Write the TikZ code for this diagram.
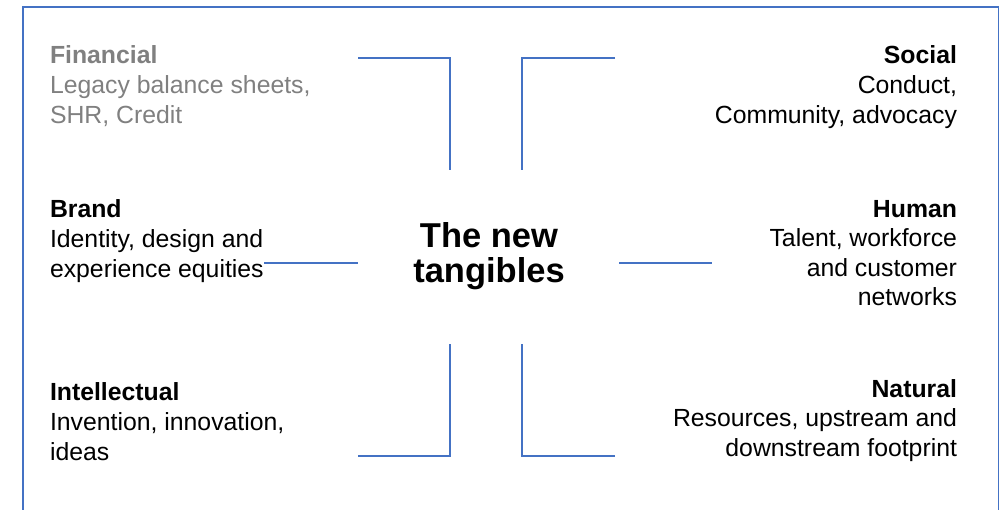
\documentclass[tikz,border=0pt]{standalone}
\usepackage{fontspec}
\setmainfont{Liberation Sans}
\definecolor{lineblue}{HTML}{4472C4}
\definecolor{txtgray}{HTML}{808080}
\newcommand{\blockL}[2]{{\fontsize{24.8}{#1}\selectfont\begin{tabular}[t]{@{}l@{}}#2\end{tabular}}}
\newcommand{\blockR}[2]{{\fontsize{24.8}{#1}\selectfont\begin{tabular}[t]{@{}r@{}}#2\end{tabular}}}
\begin{document}
\begin{tikzpicture}[x=1pt,y=-1pt,
  bracket/.style={draw=lineblue,line width=1.6pt},
  frame/.style={draw=lineblue,line width=1.4pt},
  lefttext/.style={anchor=base west,inner sep=0pt,outer sep=0pt},
  righttext/.style={anchor=base east,inner sep=0pt,outer sep=0pt},
  titletext/.style={anchor=base,inner sep=0pt,align=center,font=\fontsize{34.5}{35}\selectfont\bfseries}]
\useasboundingbox (0,0) rectangle (1000,509);
\clip (0,0) rectangle (1000,509);
% frame (open at bottom, cut by the picture edge)
\draw[frame] (23,520) -- (23,7) -- (998.5,7) -- (998.5,520);
% title
\node[titletext] (title) at (489,282) {The new\\tangibles};
% text blocks
\node[lefttext,text=txtgray] (financial) at (50,63) {\blockL{30}{\textbf{Financial}\\Legacy balance sheets,\\SHR, Credit}};
\node[righttext] (social) at (957,63) {\blockR{30}{\textbf{Social}\\Conduct,\\Community, advocacy}};
\node[lefttext] (brand) at (50,217) {\blockL{30}{\textbf{Brand}\\Identity, design and\\experience equities}};
\node[righttext] (human) at (957,217) {\blockR{29.5}{\textbf{Human}\\Talent, workforce\\and customer\\networks}};
\node[lefttext] (intellectual) at (50,400) {\blockL{30}{\textbf{Intellectual}\\Invention, innovation,\\ideas}};
\node[righttext] (natural) at (957,397) {\blockR{29.5}{\textbf{Natural}\\Resources, upstream and\\downstream footprint}};
% brackets
\coordinate (tl1) at (358,58); \coordinate (tl2) at (450,58); \coordinate (tl3) at (450,170);
\coordinate (tr1) at (615,58); \coordinate (tr2) at (522,58); \coordinate (tr3) at (522,170);
\coordinate (bl1) at (358,456); \coordinate (bl2) at (450,456); \coordinate (bl3) at (450,344);
\coordinate (br1) at (615,456); \coordinate (br2) at (522,456); \coordinate (br3) at (522,344);
\coordinate (ml1) at (264,263); \coordinate (ml2) at (358,263);
\coordinate (mr1) at (619,263); \coordinate (mr2) at (712,263);
\draw[bracket] (tl1) -- (tl2) -- (tl3);
\draw[bracket] (tr1) -- (tr2) -- (tr3);
\draw[bracket] (bl1) -- (bl2) -- (bl3);
\draw[bracket] (br1) -- (br2) -- (br3);
\draw[bracket] (ml1) -- (ml2);
\draw[bracket] (mr1) -- (mr2);
\end{tikzpicture}
\end{document}
